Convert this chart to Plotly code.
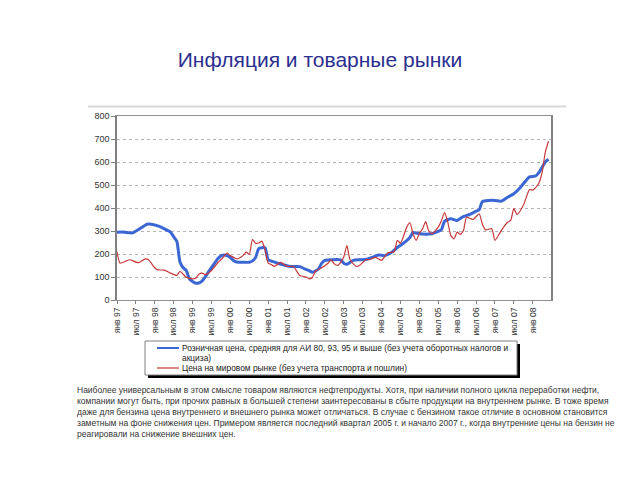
import plotly.graph_objects as go

# ---- data (months counted from Jan 1997) ----
tick_months = list(range(0, 133, 6))
tick_labels = []
for i, m in enumerate(tick_months):
    yr = (97 + m // 12) % 100
    tick_labels.append(("янв " if m % 12 == 0 else "июл ") + f"{yr:02d}")

retail_month = [0, 2, 4, 5, 7, 9, 10, 12, 14, 16, 17, 18, 19, 20, 21, 22, 23, 24, 25, 26, 27, 28, 29,
                31, 32, 33, 34, 35, 36, 37, 38, 40, 42, 43, 44, 45, 46, 47, 48, 50, 51, 53, 55, 57, 58,
                60, 61, 62, 63, 64, 65, 66, 68, 71, 72, 73, 75, 77, 79, 81, 83, 85, 87, 89, 91, 93, 94,
                96, 98, 100, 102, 103, 104, 106, 108, 110, 112, 114, 115, 116, 118, 120, 122, 124, 126,
                128, 130, 131, 133, 134, 136, 137]
retail_value = [295, 296, 292, 292, 308, 326, 330, 326, 317, 303, 295, 275, 255, 165, 140, 128, 92, 80, 73, 74, 82, 100, 121,
                160, 179, 192, 196, 193, 185, 172, 165, 164, 164, 170, 185, 223, 227, 227, 175, 165, 160, 152, 146, 146, 145,
                133, 128, 121, 126, 136, 160, 172, 175, 175, 160, 155, 172, 175, 176, 185, 196, 193, 205, 228, 247, 272, 293,
                288, 286, 288, 298, 305, 342, 353, 346, 363, 372, 386, 392, 428, 433, 433, 430, 447, 462,
                488, 522, 535, 540, 555, 600, 612]

world_month = [0, 1, 3, 4, 6, 7, 9, 10, 12, 13, 15, 17, 19, 20, 22, 24, 25, 26, 27, 28, 30, 32, 33, 34, 35,
               36, 38, 40, 41, 42, 43, 44, 45, 46, 47, 48, 49, 50, 52, 54, 56, 58, 60, 61, 62, 63, 65, 67,
               68, 69, 70, 71, 72, 73, 74, 76, 77, 79, 80, 82, 83, 84, 86, 88, 89, 90, 92, 93, 94, 95, 96,
               97, 98, 99, 100, 101, 102, 103, 104, 105, 106, 107, 108, 109, 110, 111, 113, 115, 116, 117,
               119, 120, 122, 124, 125, 126, 127, 129, 131, 132, 133, 134, 135, 136, 137]
world_value = [210, 160, 170, 175, 165, 163, 179, 175, 140, 131, 130, 117, 107, 124, 99, 92, 95, 112, 117, 110, 128, 162, 175, 190, 204,
               193, 179, 193, 208, 198, 263, 247, 248, 256, 218, 160, 154, 146, 164, 146, 146, 107, 100, 92, 97, 125, 140, 160,
               175, 157, 150, 164, 187, 237, 175, 146, 150, 175, 175, 185, 179, 172, 205, 210, 259, 247, 317, 336, 288, 259, 290,
               309, 341, 300, 288, 300, 317, 345, 380, 340, 280, 266, 295, 285, 302, 360, 350, 375, 330, 305,
               310, 259, 302, 338, 346, 397, 372, 411, 480, 478, 490, 510, 556, 643, 690]

title_text = "Инфляция и товарные рынки"
retail_name_l1 = "Розничная цена, средняя для АИ 80, 93, 95 и выше (без учета оборотных налогов и"
retail_name_l2 = "акциза)"
world_name = "Цена на мировом рынке (без учета транспорта и пошлин)"
body_lines = [
    "Наиболее универсальным в этом смысле товаром являются нефтепродукты. Хотя, при наличии полного цикла переработки нефти,",
    "компании могут быть, при прочих равных в большей степени заинтересованы в сбыте продукции на внутреннем рынке. В тоже время",
    "даже для бензина цена внутреннего и внешнего рынка может отличаться. В случае с бензином такое отличие в основном становится",
    "заметным на фоне снижения цен. Примером является последний квартал 2005 г. и начало 2007 г., когда внутренние цены на бензин не",
    "реагировали на снижение внешних цен.",
]

BLUE = "#3B67D4"
RED = "#C8383A"
FONT = "Liberation Sans, Arial, sans-serif"

fig = go.Figure()
fig.add_trace(go.Scatter(x=retail_month, y=retail_value, mode="lines",
                         line=dict(color=BLUE, width=3, shape="spline", smoothing=0.6),
                         name=retail_name_l1 + " " + retail_name_l2, showlegend=False))
fig.add_trace(go.Scatter(x=world_month, y=world_value, mode="lines",
                         line=dict(color=RED, width=1.2, shape="spline", smoothing=0.6),
                         name=world_name, showlegend=False))

# geometry helpers (pixels -> paper)
L, R, T, B = 117, 551, 116, 300
W, H = R - L, B - T
px = lambda x: (x - L) / W
py = lambda y: (B - y) / H

shapes = [
    dict(type="line", xref="paper", yref="paper", x0=px(88), x1=px(566), y0=py(106.5), y1=py(106.5),
         line=dict(color="#d8d8d8", width=2)),
    # legend shadow and box
    dict(type="rect", xref="paper", yref="paper", x0=px(148), x1=px(520), y0=py(344), y1=py(378),
         fillcolor="#000000", line=dict(width=0), layer="above"),
    dict(type="rect", xref="paper", yref="paper", x0=px(145), x1=px(517), y0=py(341), y1=py(375),
         fillcolor="#ffffff", line=dict(color="#808080", width=1), layer="above"),
    dict(type="line", xref="paper", yref="paper", x0=px(157), x1=px(179), y0=py(348), y1=py(348),
         line=dict(color=BLUE, width=2), layer="above"),
    dict(type="line", xref="paper", yref="paper", x0=px(157), x1=px(179), y0=py(368), y1=py(368),
         line=dict(color=RED, width=1.2), layer="above"),
]

ann = [
    dict(xref="paper", yref="paper", x=px(180), y=py(348), text=retail_name_l1, showarrow=False,
         xanchor="left", yanchor="middle", font=dict(size=8.4, color="#222222", family=FONT)),
    dict(xref="paper", yref="paper", x=px(180), y=py(357.8), text=retail_name_l2, showarrow=False,
         xanchor="left", yanchor="middle", font=dict(size=8.4, color="#222222", family=FONT)),
    dict(xref="paper", yref="paper", x=px(180), y=py(368), text=world_name, showarrow=False,
         xanchor="left", yanchor="middle", font=dict(size=8.4, color="#222222", family=FONT)),
    dict(xref="paper", yref="paper", x=px(75), y=py(383), text="<br>".join(body_lines), showarrow=False,
         xanchor="left", yanchor="top", align="left",
         font=dict(size=8.5, color="#333333", family=FONT)),
]

fig.update_layout(
    width=640, height=480,
    margin=dict(l=L, r=640 - R, t=T, b=480 - B),
    paper_bgcolor="white", plot_bgcolor="white",
    title=dict(text=title_text, x=0.5, xref="container", xanchor="center",
               y=1 - 60 / 480, yref="container", yanchor="middle",
               font=dict(size=21, color="#2B2F8F", family=FONT)),
    shapes=shapes, annotations=ann, showlegend=False,
    xaxis=dict(range=[0, 137.8], tickmode="array", tickvals=tick_months, ticktext=tick_labels,
               tickangle=-90, ticks="outside", ticklen=3, tickcolor="#808080",
               showgrid=False, zeroline=False, showline=True, linecolor="#909090", linewidth=1,
               mirror=True, tickfont=dict(size=8.6, color="#333333", family=FONT)),
    yaxis=dict(range=[0, 800], dtick=100, ticks="outside", ticklen=4, tickcolor="#808080",
               showgrid=True, gridcolor="#b4b4b4", griddash="dot", gridwidth=1,
               zeroline=False, showline=True, linecolor="#808080", linewidth=1.5, mirror=True,
               tickfont=dict(size=9, color="#333333", family=FONT)),
)

fig.write_html("out.html")
